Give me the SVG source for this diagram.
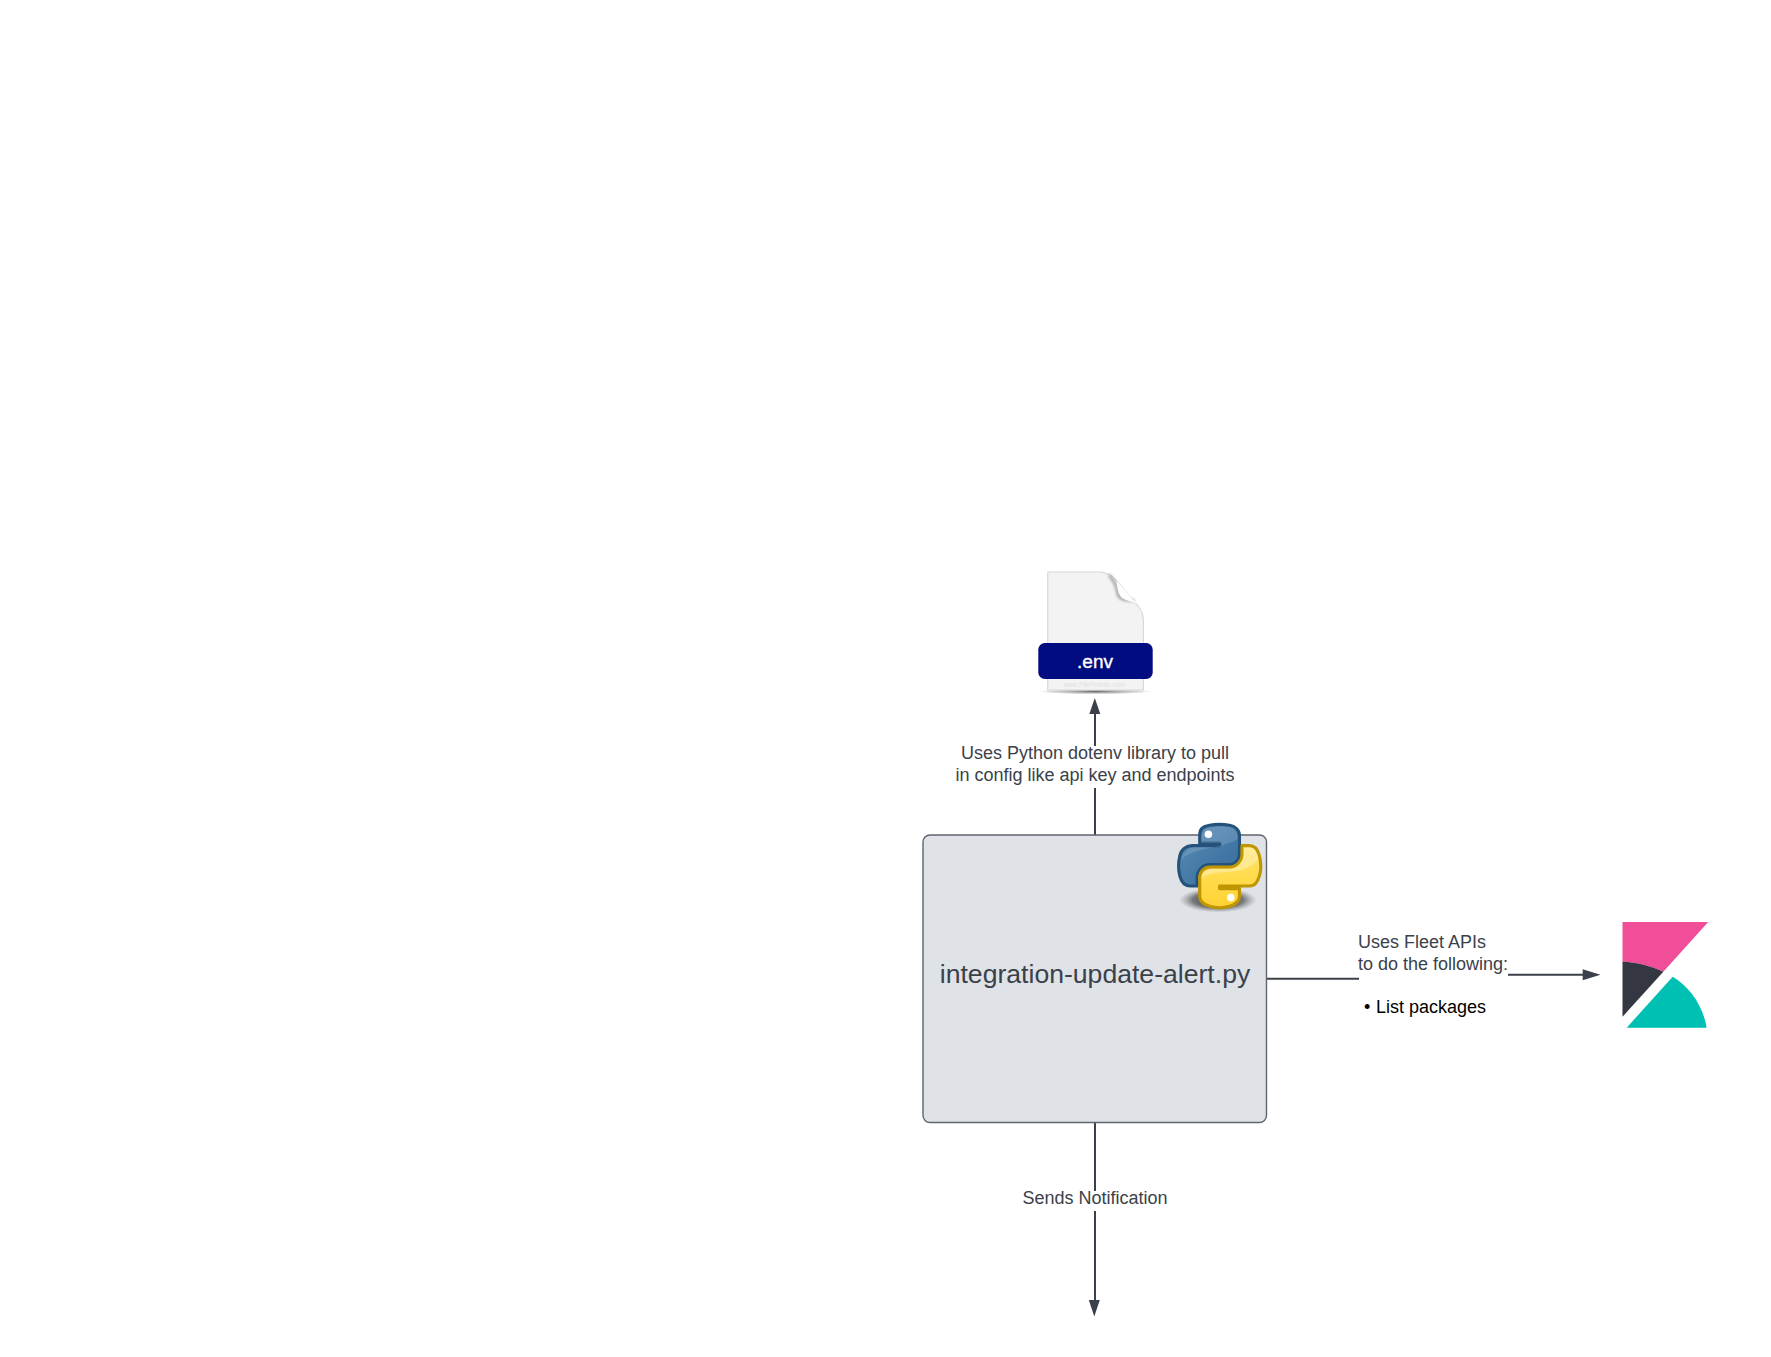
<svg xmlns="http://www.w3.org/2000/svg" width="1771" height="1357" viewBox="0 0 1771 1357">
<style>
.conn{fill:none;stroke:#3a414a;stroke-width:2}
.head{fill:#3a414a}
.lbl{font-family:"Liberation Sans",Arial,sans-serif;font-size:18px;fill:#3a414a}
.mid{text-anchor:middle}
</style>
<defs>
<linearGradient id="blue" x1="0" y1="0" x2="1" y2="1"><stop offset="0" stop-color="#5b8db5"/><stop offset="1" stop-color="#33699b"/></linearGradient>
<linearGradient id="yellow" x1="0" y1="0" x2="0" y2="1"><stop offset="0" stop-color="#ffe56b"/><stop offset="1" stop-color="#ffd232"/></linearGradient>
<radialGradient id="shadow"><stop offset="0" stop-color="#222" stop-opacity=".95"/><stop offset=".65" stop-color="#555" stop-opacity=".75"/><stop offset="1" stop-color="#888" stop-opacity="0"/></radialGradient>
<radialGradient id="floor"><stop offset="0" stop-color="#555" stop-opacity=".9"/><stop offset=".8" stop-color="#aaa" stop-opacity=".4"/><stop offset="1" stop-color="#ccc" stop-opacity="0"/></radialGradient>
<filter id="blur" x="-30%" y="-30%" width="160%" height="160%"><feGaussianBlur stdDeviation="1.4"/></filter>
</defs>
<rect width="1771" height="1357" fill="#ffffff"/>
<g id="connectors">
<path class="conn" d="M1095 835V788M1095 746V713"/>
<path class="head" d="M1094.8 698L1100.3 714H1089.3Z"/>
<path class="conn" d="M1267 978.7H1359M1508 974.7H1584"/>
<path class="head" d="M1600.5 974.7L1582.7 969.2V980.2Z"/>
<path class="conn" d="M1095 1123V1191M1095 1211V1301"/>
<path class="head" d="M1094.3 1316.5L1099.8 1300H1088.8Z"/>
</g>
<g id="node-env">
<ellipse cx="1095" cy="691.5" rx="57" ry="2.8" fill="url(#floor)"/>
<path d="M1047.7 572H1098C1106 572 1112 575 1116 580L1138 606C1142 611 1143.4 615 1143.4 620V690H1047.7Z" fill="#f3f3f3" stroke="#d8d8d8" stroke-width="1.2"/>
<path d="M1109 575C1114 580 1117 588 1118 594 1119 599 1124 600 1134 600.5" fill="none" stroke="#8f8f8f" stroke-width="2.4" filter="url(#blur)"/>
<path d="M1117 581L1137 604C1130 601 1125 600 1122 598 1119 595 1117 589 1117 581Z" fill="#fdfdfd"/>
<rect x="1038.3" y="643" width="114.4" height="36" rx="6.500" fill="#000c7f"/>
<text x="1094" y="686.5" class="mid" font-family="'Liberation Sans',Arial,sans-serif" font-size="6.5" fill="#e0e0e0">www.FileProInfo.com</text>
<text x="1095" y="667.5" class="mid" font-family="'Liberation Sans',Arial,sans-serif" font-size="19" fill="#ffffff" stroke="#ffffff" stroke-width=".35">.env</text>
</g>
<g id="node-script">
<rect x="923" y="835" width="343.5" height="287.5" rx="7" fill="#dfe2e7" stroke="#5f646d" stroke-width="1.4"/>
<text x="1095" y="983" class="lbl mid" style="font-size:26.6px">integration-update-alert.py</text>
<g id="python-logo">
<ellipse cx="1218" cy="900" rx="39" ry="12.5" fill="url(#shadow)"/>
<g transform="translate(1178.4 824.4) scale(.742)" stroke-width="4.2">
<path d="M54.92 0C50.34.02 45.96.41 42.11 1.09 30.76 3.1 28.7 7.29 28.7 15.03V25.25H55.51V28.66H28.7 18.64C10.85 28.66 4.02 33.34 1.89 42.25-.57 52.46-.68 58.84 1.89 69.5 3.79 77.44 8.35 83.09 16.14 83.09H25.36V70.84C25.36 61.99 33.01 54.19 42.11 54.19H68.89C76.34 54.19 82.29 48.05 82.29 40.56V15.03C82.29 7.77 76.16 2.31 68.89 1.09 64.28.33 59.5-.02 54.92 0Z" fill="url(#blue)" stroke="#24527a" stroke-linejoin="round"/>
<circle cx="40.42" cy="13.33" r="5.1" fill="#ffffff"/>
<path d="M4 47C7 37 14 31 24 30.5H58V25H31C30 14 32 6 43 4 54 2 68 2 74 5 79 8 80 14 80 20 62 30 38 31 22 37 14 40 8 43 4 47Z" fill="#ffffff" opacity=".14"/>
<path d="M85.64 28.66V40.56C85.64 49.79 77.81 57.56 68.89 57.56H42.11C34.77 57.56 28.7 63.84 28.7 71.19V96.72C28.7 103.98 35.02 108.26 42.11 110.34 50.59 112.84 58.73 113.29 68.89 110.34 75.64 108.39 82.29 104.46 82.29 96.72V86.5H55.51V83.09H82.29 95.7C103.49 83.09 106.39 77.66 109.11 69.5 111.91 61.1 111.79 53.03 109.11 42.25 107.18 34.49 103.5 28.66 95.7 28.66Z" fill="url(#yellow)" stroke="#bf9600" stroke-linejoin="round"/>
<circle cx="70.58" cy="98.42" r="5.1" fill="#ffffff"/>
<path d="M31 72C33 64 38 60 45 59.5H70C78 59 86 52 88 42V31H97C103 31 106 37 108 46 100 58 84 63 66 64 50 65 40 66 31 72Z" fill="#ffffff" opacity=".32"/>
</g>
</g>
</g>
<g id="edge-labels">
<text x="1095" y="759" class="lbl mid">Uses Python dotenv library to pull</text>
<text x="1095" y="780.5" class="lbl mid">in config like api key and endpoints</text>
<text x="1358" y="948" class="lbl">Uses Fleet APIs</text>
<text x="1358" y="969.5" class="lbl">to do the following:</text>
<text x="1364" y="1012.7" class="lbl" style="fill:#000000">•</text>
<text x="1376" y="1012.7" class="lbl" style="fill:#000000">List packages</text>
<text x="1095" y="1204" class="lbl mid">Sends Notification</text>
</g>
<g id="node-kibana">
<path d="M1622.5 922H1708.200L1663.300 971.700C1651 966 1637 962 1622.500 961.700Z" fill="#f04e98"/>
<path d="M1622.5 961.700C1637 962 1651 966 1663.300 971.700L1622.500 1016.700Z" fill="#343741"/>
<path d="M1626.700 1027.700L1672.700 976.700C1690 987 1703 1006 1706.700 1027.700Z" fill="#00bfb3"/>
</g>
</svg>
